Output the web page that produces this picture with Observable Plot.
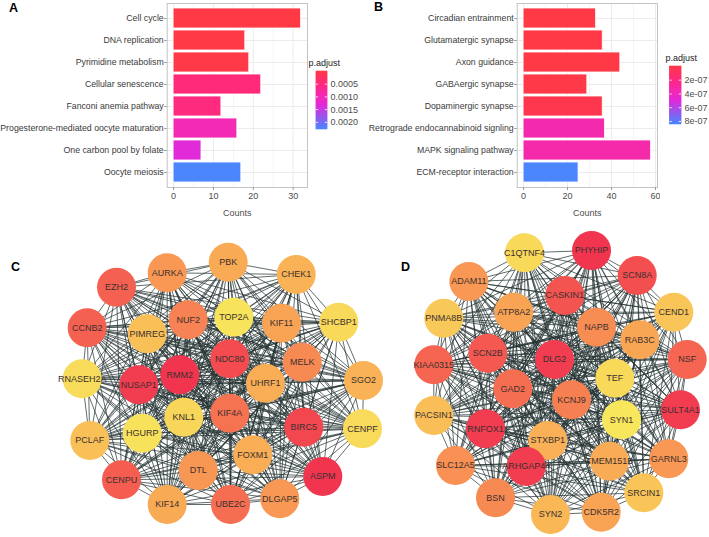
<!DOCTYPE html>
<html><head><meta charset="utf-8">
<script src="https://cdn.jsdelivr.net/npm/d3@7"></script>
<script src="https://cdn.jsdelivr.net/npm/@observablehq/plot@0.6"></script>
<style>
body{margin:0;background:#fff;font-family:"Liberation Sans",Arial,sans-serif;}
#fig{position:relative;width:709px;height:537px;overflow:hidden;background:#fff;}
#fig > *{position:absolute;}
.lbl{font-weight:bold;font-size:12.5px;line-height:13px;color:#000;}
</style></head><body><div id="fig"></div>
<script>
// ---------- Panel A data ----------
const termsA = ["Cell cycle","DNA replication","Pyrimidine metabolism","Cellular senescence","Fanconi anemia pathway","Progesterone-mediated oocyte maturation","One carbon pool by folate","Oocyte meiosis"];
const countsA = [32, 18, 19, 22, 12, 16, 7, 17];
const padjA = [0.000002, 0.000015, 0.000025, 0.0005, 0.00053, 0.001, 0.00135, 0.00228];
const ticksA = [0, 10, 20, 30];
const legendTicksA = [0.0005, 0.0010, 0.0015, 0.0020];

// ---------- Panel B data ----------
const termsB = ["Circadian entrainment","Glutamatergic synapse","Axon guidance","GABAergic synapse","Dopaminergic synapse","Retrograde endocannabinoid signling","MAPK signaling pathway","ECM-receptor interaction"];
const countsB = [33, 36, 44, 29, 36, 37, 58, 25];
const padjB = [1e-9, 3e-9, 6e-9, 8e-9, 3.4e-8, 3.5e-7, 3.4e-7, 8.44e-7];
const ticksB = [0, 20, 40, 60];
const legendTicksB = [2e-7, 4e-7, 6e-7, 8e-7];

// ---------- Panel C network ----------
const netCNames = ["PBK","AURKA","CHEK1","EZH2","NUF2","TOP2A","KIF11","SHCBP1","CCNB2","PIMREG","NDC80","MELK","RMM2","NUSAP1","RNASEH2A","UHRF1","SGO2","KNL1","KIF4A","BIRC5","CENPF","HGURP","PCLAF","FOXM1","DTL","ASPM","CENPU","KIF14","UBE2C","DLGAP5"];
const netCX = [227.7,166.7,295.7,116,187.7,233.3,281,338.3,86.7,146.7,229.3,301.7,179.3,138.3,81.7,265,363,183.3,229.3,303.3,362,141.7,89.3,252.3,197.7,322.3,121,166.7,230,279.3];
const netCY = [261.7,272.3,274,286.7,319.3,316.7,322.7,321.7,327.3,333.3,358.3,361.7,374.3,384.3,378.3,382.7,380,416.7,412.7,426.7,428.3,432.7,440,454.3,470,476,479.3,504,504,498.3];
const netCScore = [0.45,0.55,0.38,0.8,0.65,0.02,0.5,0.1,0.8,0.28,0.9,0.62,1.0,0.97,0.08,0.42,0.38,0.12,0.72,0.92,0.08,0.04,0.28,0.42,0.56,1.0,0.82,0.45,0.74,0.55];

// ---------- Panel D network ----------
const netDNames = ["C1QTNF4","PHYHIP","SCN8A","ADAM11","CASKIN1","ATP8A2","CEND1","PNMA8B","NAPB","RAB3C","SCN2B","DLG2","KIAA0315","NSF","TEF","GAD2","KCNJ9","SULT4A1","SYN1","PACSIN1","RNFOX1","STXBP1","TMEM151B","GARNL3","SLC12A5","ARHGAP44","SRCIN1","BSN","SYN2","CDK5R2"];
const netDX = [524,591,636.7,468.3,564.3,513.3,673.3,443.3,596,639.3,487.3,554,433.3,686.7,614.3,512.3,571,680,621,433.3,485,547.3,609,668.3,455,525.7,643.3,495,550,600.7];
const netDY = [252.3,250,275,281,295,311.7,311.7,317.7,326.7,339.3,352.7,359,364.3,359,377.7,388.3,399.3,409.3,419.3,415,428.3,440,460.7,458.3,465,466,492.3,497.3,514,511.7];
const netDScore = [0.1,1.0,0.88,0.55,0.86,0.5,0.25,0.22,0.6,0.48,0.84,0.97,0.78,0.78,0.1,0.74,0.66,0.97,0.0,0.3,0.97,0.4,0.44,0.55,0.58,0.97,0.25,0.62,0.35,0.5];

const FONT = '"Liberation Sans", Arial, sans-serif';
const fig = document.getElementById("fig");
function place(el, left, top) { el.style.left = left + "px"; el.style.top = top + "px"; fig.appendChild(el); return el; }
// red -> pink -> magenta -> violet -> blue ramp
const pStops = [0, 0.22, 0.45, 0.6, 1];
const pRange = ["#FF3A45", "#FF2A7A", "#F22AB8", "#E02ADA", "#4B86FF"];
const pColor = ([d0, d1]) => ({type: "linear", domain: pStops.map(t => d0 + t * (d1 - d0)), range: pRange});

function barPanel(terms, counts, padj, ticks, width, mLeft) {
  const data = terms.map((t, i) => ({term: t, count: counts[i], p: padj[i]}));
  const max = d3.max(counts);
  const minor = d3.range(ticks.length - 1).map(i => (ticks[i] + ticks[i + 1]) / 2);
  return Plot.plot({
    width, height: 225,
    marginLeft: mLeft, marginRight: 3, marginTop: 3, marginBottom: 38,
    style: {fontFamily: FONT, fontSize: "9px", color: "#4d4d4d", background: "transparent"},
    x: {domain: [-0.05 * max, 1.05 * max]},
    y: {domain: terms, paddingInner: 0.1, paddingOuter: 0.15},
    color: pColor(d3.extent(padj)),
    marks: [
      Plot.ruleX(minor, {stroke: "#f4f4f4"}),
      Plot.ruleX(ticks, {stroke: "#ebebeb"}),
      Plot.gridY({stroke: "#ebebeb", strokeOpacity: 1}),
      Plot.barX(data, {x: "count", y: "term", fill: "p", stroke: "white", strokeWidth: 0.8}),
      Plot.frame({stroke: "#c4c4c4"}),
      Plot.axisX({ticks, tickSize: 3, tickPadding: 2, label: "Counts", labelAnchor: "center", labelArrow: "none", labelOffset: 28, stroke: "#9a9a9a"}),
      Plot.axisY({tickSize: 2.5, tickPadding: 1, label: null, stroke: "#9a9a9a", fill: "#3a3a3a", fontSize: 8.75})
    ]
  });
}

function legendPanel(padj, ticks, fmt, w, barX0, barX1, titleDx) {
  const [d0, d1] = d3.extent(padj);
  const N = 58;
  const strips = d3.range(N).map(i => ({a: d0 + (d1 - d0) * i / N, b: d0 + (d1 - d0) * (i + 1) / N}));
  return Plot.plot({
    width: w, height: 85, margin: 0,
    style: {fontFamily: FONT, fontSize: "9px", background: "transparent"},
    x: {domain: [0, 1], range: [barX0, barX1], axis: null},
    y: {domain: [d0, d1], range: [16, 74], axis: null},
    color: pColor([d0, d1]),
    marks: [
      Plot.rect(strips, {x1: 0, x2: 1, y1: "a", y2: "b", fill: d => (d.a + d.b) / 2, stroke: d => (d.a + d.b) / 2, strokeWidth: 0.6}),
      Plot.ruleY(ticks, {x1: 0, x2: 0.2, stroke: "white", strokeWidth: 0.8}),
      Plot.ruleY(ticks, {x1: 0.8, x2: 1, stroke: "white", strokeWidth: 0.8}),
      Plot.text(ticks, {x: 1, y: d => d, text: fmt, dx: 3, textAnchor: "start", fill: "#4d4d4d"}),
      Plot.text(["p.adjust"], {frameAnchor: "top-left", dx: titleDx, dy: 4, textAnchor: "start", lineAnchor: "top", fill: "#222"})
    ]
  });
}

function netPanel(names, xs, ys, scores, left, top, w, h) {
  const nodes = names.map((n, i) => ({name: n, x: xs[i], y: ys[i], s: scores[i]}));
  const edges = d3.cross(d3.range(nodes.length), d3.range(nodes.length)).filter(([i, j]) => i < j);
  return Plot.plot({
    width: w, height: h, margin: 0,
    style: {fontFamily: FONT, background: "transparent"},
    x: {domain: [left, left + w], range: [0, w], axis: null},
    y: {domain: [top, top + h], range: [0, h], axis: null},
    color: {type: "linear", domain: [0, 0.5, 1], range: ["#F8E65C", "#F9A354", "#F2354F"]},
    marks: [
      Plot.link(edges, {x1: d => xs[d[0]], y1: d => ys[d[0]], x2: d => xs[d[1]], y2: d => ys[d[1]], stroke: "#243232", strokeWidth: 0.8, strokeOpacity: 0.9}),
      Plot.dot(nodes, {x: "x", y: "y", r: 19.5, fill: "s", stroke: "none"}),
      Plot.text(nodes, {x: "x", y: "y", text: "name", fontSize: 9, fill: "#3a3030"})
    ]
  });
}

place(barPanel(termsA, countsA, padjA, ticksA, 310, 166.7), 0, 0);
place(legendPanel(padjA, legendTicksA, d3.format(".4f"), 62, 16, 27, 8), 300, 55);
place(barPanel(termsB, countsB, padjB, ticksB, 300, 156.7), 360, 0);
const fmtE = d => d.toExponential(0).replace(/e([+-])(\d)$/, "e$10$2");
place(legendPanel(padjB, legendTicksB, fmtE, 51, 11.5, 23, 7), 658, 50);
place(netPanel(netCNames, netCX, netCY, netCScore, 0, 228, 400, 309), 0, 228);
place(netPanel(netDNames, netDX, netDY, netDScore, 400, 228, 309, 309), 400, 228);

[["A", 9, 2], ["B", 374, 1], ["C", 11, 261], ["D", 401, 261]].forEach(([t, x, y]) => {
  const d = document.createElement("div"); d.className = "lbl"; d.textContent = t; place(d, x, y);
});
</script></body></html>
